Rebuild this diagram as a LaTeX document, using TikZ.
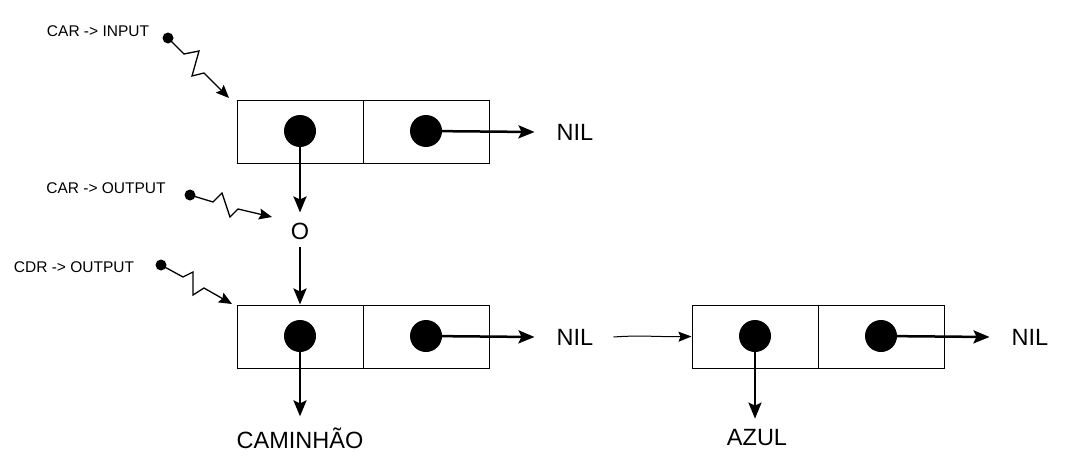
\documentclass[tikz,border=0pt]{standalone}
\usepackage{fontspec}
\setmainfont{Liberation Sans}
\usetikzlibrary{arrows.meta,positioning}

\tikzset{
  cell/.style={draw,line width=1pt,minimum width=126pt,minimum height=63pt,inner sep=0pt},
  dot/.style={circle,fill=black,minimum size=32pt,inner sep=0pt},
  pin/.style={circle,fill=black,minimum size=11pt,inner sep=0pt},
  ptr/.style={line width=2.5pt,-{Stealth[length=16pt,width=13pt,inset=3pt]}},
  zig/.style={line width=1.3pt,-{Stealth[length=13pt,width=11pt,inset=2pt]}},
  big/.style={font=\fontsize{23.5}{28}\selectfont,inner sep=0pt},
  small/.style={font=\fontsize{15.5}{18}\selectfont,inner sep=0pt}
}

\begin{document}
\begin{tikzpicture}[x=1pt,y=-1pt]
    \useasboundingbox (0,0) rectangle (1074,471);
    % first cons cell
    \node[cell] (car1) at (300,131.5) {};
    \node[cell] (cdr1) at (426,131.5) {};
    \node[dot] (d1) at (300,131) {};
    \node[dot] (d2) at (426,131) {};
    \node[big] (nil1) at (575,132) {NIL};
    % second cons cell
    \node[cell] (car2) at (300,336.5) {};
    \node[cell] (cdr2) at (426,336.5) {};
    \node[dot] (d3) at (300,336) {};
    \node[dot] (d4) at (426,336) {};
    \node[big] (nil2) at (575,337) {NIL};
    % third cons cell
    \node[cell] (car3) at (755,336.5) {};
    \node[cell] (cdr3) at (881,336.5) {};
    \node[dot] (d5) at (755,336) {};
    \node[dot] (d6) at (881,336) {};
    \node[big] (nil3) at (1030,337) {NIL};
    % values
    \node[big] (out) at (300,231) {O};
    \node[big] (cam) at (300,438) {CAMINHÃO};
    \node[big] (azul) at (757,438) {AZUL};
    % pointers
    \draw[ptr] (d2.center) -- ([xshift=-22pt]nil1.west);
    \draw[ptr] (d4.center) -- ([xshift=-22pt]nil2.west);
    \draw[ptr] (d6.center) -- ([xshift=-22pt]nil3.west);
    \draw[ptr] (d1.center) -- ([yshift=10pt]out.north);
    \draw[ptr] ([yshift=-7pt]out.south) -- (car2.north);
    \draw[ptr] (d3.center) -- ([yshift=11pt]cam.north);
    \draw[ptr] (d5.center) -- ([yshift=11pt]d5 |- azul.north);
    \draw[line width=1pt,-{Stealth[length=13pt,width=10pt,inset=2pt]}]
      ([xshift=20pt]nil2.east) .. controls (640,335) and (660,337) .. (car3.west);
    % labels with zigzag pointers
    \node[small] (lin) at (98,31) {CAR -> INPUT};
    \node[small] (lcar) at (106,188) {CAR -> OUTPUT};
    \node[small] (lcdr) at (74,267) {CDR -> OUTPUT};
    \node[pin] (p1) at (168,38) {};
    \node[pin] (p2) at (190,195) {};
    \node[pin] (p3) at (161,265) {};
    \coordinate (t1) at (229,98);
    \coordinate (t2) at (272,217);
    \coordinate (t3) at (232,304);
    \draw[zig] (p1.center) -- (184,54) -- (199,51) -- (192,76) -- (204,73) -- (t1);
    \draw[zig] (p2.center) -- (213,202) -- (222,193) -- (230,217) -- (238,209) -- (t2);
    \draw[zig] (p3.center) -- (183,277) -- (193,272) -- (193,295) -- (204,288) -- (t3);
\end{tikzpicture}
\end{document}
